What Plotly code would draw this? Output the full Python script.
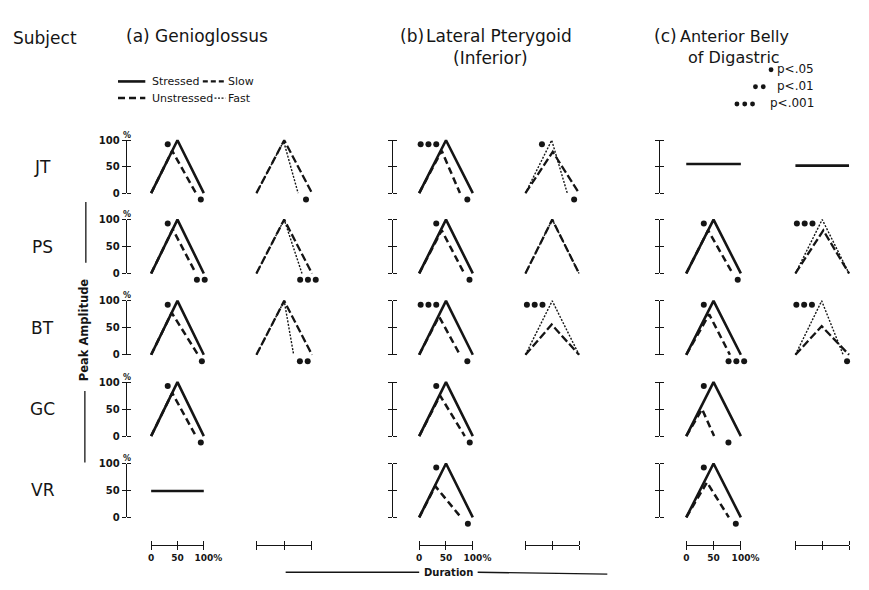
import plotly.graph_objects as go

W, H = 869, 590
INK = "#151515"
FONT = "DejaVu Sans"

subjects = ["JT", "PS", "BT", "GC", "VR"]

# Envelope of each EMG burst: (time of peak, peak amplitude, offset time),
# duration and amplitude both in % of the reference token.
# (a) Genioglossus
genio_stressed = [(50, 100, 100), (50, 100, 100), (50, 100, 100), (50, 100, 100), None]
genio_unstressed = [(40, 80, 85), (41, 82, 85), (39, 78, 89), (40, 80, 85), None]
genio_slow = [(50, 100, 100), (50, 100, 100), (50, 100, 100), None, None]
genio_fast = [(49, 98, 75), (50, 100, 82), (50, 100, 67), None, None]
# (b) Lateral Pterygoid (Inferior)
ptery_stressed = [(50, 100, 100), (50, 100, 100), (50, 100, 100), (50, 100, 100), (50, 100, 100)]
ptery_unstressed = [(42, 80, 76), (42, 80, 84), (37, 71, 76), (39, 75, 85), (30, 58, 78)]
ptery_slow = [(51, 78, 100), (50, 100, 100), (49, 56, 100), None, None]
ptery_fast = [(49, 100, 78), (50, 100, 100), (50, 100, 100), None, None]
# (c) Anterior Belly of Digastric
digas_stressed = [None, (50, 100, 100), (50, 100, 100), (50, 100, 100), (50, 100, 100)]
digas_unstressed = [None, (40, 80, 85), (42, 75, 80), (29, 50, 51), (38, 65, 78)]
digas_slow = [None, (52, 80, 100), (49, 53, 100), None, None]
digas_fast = [None, (50, 100, 100), (49, 100, 89), None, None]

# Records without a distinct peak: constant level in %
genio_flat_stress = [None, None, None, None, 49]
genio_flat_rate = [None, None, None, None, None]
ptery_flat_stress = [None, None, None, None, None]
ptery_flat_rate = [None, None, None, None, None]
digas_flat_stress = [55, None, None, None, None]
digas_flat_rate = [52, None, None, None, None]

# Significance (number of stars) for the peak and for the offset
genio_stress_sig_peak = [1, 1, 1, 1, 0]
genio_stress_sig_end = [1, 2, 1, 1, 0]
genio_rate_sig_peak = [0, 0, 0, 0, 0]
genio_rate_sig_end = [1, 3, 2, 0, 0]
ptery_stress_sig_peak = [3, 1, 3, 1, 1]
ptery_stress_sig_end = [1, 1, 1, 1, 1]
ptery_rate_sig_peak = [1, 0, 3, 0, 0]
ptery_rate_sig_end = [1, 0, 0, 0, 0]
digas_stress_sig_peak = [0, 1, 1, 1, 1]
digas_stress_sig_end = [0, 1, 3, 1, 1]
digas_rate_sig_peak = [0, 3, 3, 0, 0]
digas_rate_sig_end = [0, 0, 1, 0, 0]

amp_ticks = [0, 50, 100]
amp_tick_text = ["0", "50", "100"]
dur_ticks = [0, 50, 100]
dur_tick_text = ["0", "50", "\u00a0" * 3 + "100%"]

sig_labels = ["p<.05", "p<.01", "p<.001"]

# ---- geometry (pixels) ----
COL_PX = [(152, 206), (260, 317), (427, 482), (536, 591), (701, 757), (813, 868)]
ROW_PX = [(191, 137), (273, 218), (356, 301), (439, 384), (522, 467)]
YAXIS_PX = [126, None, 399, None, 673, None]
SCALE_Y_PX = 550

STYLE = {
    "stressed": dict(color=INK, width=2.6, dash="solid"),
    "unstressed": dict(color=INK, width=2.5, dash="7px,4px"),
    "slow": dict(color=INK, width=2.3, dash="8px,3px"),
    "fast": dict(color=INK, width=1.4, dash="2px,1.5px"),
    "flat": dict(color=INK, width=2.6, dash="solid"),
}

panels = [
    dict(ref=genio_stressed, cmp=genio_unstressed, flat=genio_flat_stress,
         peak=genio_stress_sig_peak, end=genio_stress_sig_end, styles=("stressed", "unstressed")),
    dict(ref=genio_slow, cmp=genio_fast, flat=genio_flat_rate,
         peak=genio_rate_sig_peak, end=genio_rate_sig_end, styles=("slow", "fast")),
    dict(ref=ptery_stressed, cmp=ptery_unstressed, flat=ptery_flat_stress,
         peak=ptery_stress_sig_peak, end=ptery_stress_sig_end, styles=("stressed", "unstressed")),
    dict(ref=ptery_slow, cmp=ptery_fast, flat=ptery_flat_rate,
         peak=ptery_rate_sig_peak, end=ptery_rate_sig_end, styles=("slow", "fast")),
    dict(ref=digas_stressed, cmp=digas_unstressed, flat=digas_flat_stress,
         peak=digas_stress_sig_peak, end=digas_stress_sig_end, styles=("stressed", "unstressed")),
    dict(ref=digas_slow, cmp=digas_fast, flat=digas_flat_rate,
         peak=digas_rate_sig_peak, end=digas_rate_sig_end, styles=("slow", "fast")),
]


def ax_key(letter, n):
    return f"{letter}axis" if n == 1 else f"{letter}axis{n}"


def ax_ref(letter, n):
    return letter if n == 1 else f"{letter}{n}"


fig = go.Figure()
layout = dict(width=W, height=H, margin=dict(l=0, r=0, t=0, b=0),
              paper_bgcolor="white", plot_bgcolor="rgba(0,0,0,0)", showlegend=False)

# hidden data axes: one x per column, one y per subject row
for c, (p0, p100) in enumerate(COL_PX):
    s = (p100 - p0) / 100
    L, R = p0 - 22, min(p100 + 18, W)
    layout[ax_key("x", c + 1)] = dict(domain=[L / W, R / W], range=[(L - p0) / s, (R - p0) / s],
                                      visible=False, anchor="y", fixedrange=True)
for r, (b, t) in enumerate(ROW_PX):
    s = (b - t) / 100
    B, T = b + 16, t - 9
    layout[ax_key("y", r + 1)] = dict(domain=[1 - B / H, 1 - T / H], range=[(b - B) / s, (b - T) / s],
                                      visible=False, anchor="x", fixedrange=True)

# bursts
for c, p in enumerate(panels):
    p0, p100 = COL_PX[c]
    sx = (p100 - p0) / 100
    xr = ax_ref("x", c + 1)
    for r in range(len(subjects)):
        b, t = ROW_PX[r]
        sy = (b - t) / 100
        yr = ax_ref("y", r + 1)
        if p["flat"][r] is not None:
            lvl = p["flat"][r]
            fig.add_trace(go.Scatter(x=[0, 100], y=[lvl, lvl], mode="lines", line=STYLE["flat"],
                                     xaxis=xr, yaxis=yr, hoverinfo="skip"))
        envs = []
        for key, style in zip(("ref", "cmp"), p["styles"]):
            env = p[key][r]
            if env is None:
                continue
            envs.append(env)
            tp, ap, te = env
            fig.add_trace(go.Scatter(x=[0, tp, te], y=[0, ap, 0], mode="lines", line=STYLE[style],
                                     xaxis=xr, yaxis=yr, hoverinfo="skip"))
        if not envs:
            continue
        # significance stars beside the peak
        n = p["peak"][r]
        if n:
            top = max(envs, key=lambda e: e[1])
            xs = [top[0] - (10 + 8 * (n - 1 - k)) / sx for k in range(n)]
            ys = [top[1] - 4 / sy] * n
            fig.add_trace(go.Scatter(x=xs, y=ys, mode="markers", cliponaxis=False,
                                     marker=dict(size=6, color=INK), xaxis=xr, yaxis=yr, hoverinfo="skip"))
        # significance stars under the offset
        n = p["end"][r]
        if n:
            ends = [e[2] for e in envs]
            mid = (min(ends) + max(ends)) / 2 + 1 / sx
            xs = [mid + (k - (n - 1) / 2) * 8 / sx for k in range(n)]
            ys = [-6.5 / sy] * n
            fig.add_trace(go.Scatter(x=xs, y=ys, mode="markers", cliponaxis=False,
                                     marker=dict(size=6, color=INK), xaxis=xr, yaxis=yr, hoverinfo="skip"))

AX_LINE = dict(showline=True, linecolor=INK, linewidth=1.4, ticks="outside", ticklen=4,
               tickwidth=1.4, tickcolor=INK, tickmode="array", showgrid=False, tickangle=0,
               zeroline=False, range=[0, 100], fixedrange=True)
BOLD_TICK = dict(family=FONT, size=10, color=INK, weight="bold")

# amplitude scale bars (ticks on both sides of the line)
ny = len(ROW_PX) + 1
for c, axpx in enumerate(YAXIS_PX):
    if axpx is None:
        continue
    for r, (b, t) in enumerate(ROW_PX):
        for side in ("left", "right"):
            d = dict(AX_LINE, domain=[1 - b / H, 1 - t / H], anchor="free", position=axpx / W,
                     side=side, tickvals=amp_ticks)
            if side == "left" and c == 0:
                d.update(showticklabels=True, ticktext=amp_tick_text, tickfont=BOLD_TICK)
            else:
                d["showticklabels"] = False
            layout[ax_key("y", ny)] = d
            fig.add_trace(go.Scatter(x=[], y=[], xaxis=ax_ref("x", c + 1), yaxis=ax_ref("y", ny),
                                     hoverinfo="skip"))
            ny += 1

# duration scale bars under each column
nx = len(COL_PX) + 1
for c, (p0, p100) in enumerate(COL_PX):
    for side in ("bottom", "top"):
        d = dict(AX_LINE, domain=[p0 / W, p100 / W], anchor="free", position=1 - SCALE_Y_PX / H,
                 side=side, tickvals=dur_ticks)
        if side == "bottom" and c % 2 == 0:
            d.update(showticklabels=True, ticktext=dur_tick_text,
                     tickfont=dict(family=FONT, size=9, color=INK, weight="bold"))
        else:
            d["showticklabels"] = False
        layout[ax_key("x", nx)] = d
        fig.add_trace(go.Scatter(x=[], y=[], xaxis=ax_ref("x", nx), yaxis=ax_ref("y", len(ROW_PX)),
                                 hoverinfo="skip"))
        nx += 1

annotations = []
shapes = []


def text(s, x, y, size, xanchor="left", bold=False, angle=0):
    annotations.append(dict(text=s, x=x / W, y=1 - y / H, xref="paper", yref="paper",
                            xanchor=xanchor, yanchor="middle", showarrow=False, textangle=angle,
                            font=dict(family=FONT, size=size, color=INK,
                                      weight="bold" if bold else "normal")))


def line(x0, y0, x1, y1, width=1.3, dash="solid"):
    shapes.append(dict(type="line", xref="paper", yref="paper", x0=x0 / W, y0=1 - y0 / H,
                       x1=x1 / W, y1=1 - y1 / H, line=dict(color=INK, width=width, dash=dash)))


def dot(x, y, d=5):
    shapes.append(dict(type="circle", xref="paper", yref="paper", x0=(x - d / 2) / W,
                       x1=(x + d / 2) / W, y0=1 - (y + d / 2) / H, y1=1 - (y - d / 2) / H,
                       fillcolor=INK, line=dict(width=0)))


# headings
text("Subject", 8, 33, 17)
text("(a)", 124, 31, 17)
text("Genioglossus", 154, 31, 17)
text("(b)", 405, 31, 17)
text("Lateral Pterygoid", 432, 31, 17)
text("(Inferior)", 500, 53, 17, xanchor="center")
text("(c)", 666, 31, 17)
text("Anterior Belly", 693, 31, 16)
text("of Digastric", 750, 53, 16, xanchor="center")

# line-style key
LEG_Y = [77, 94]
line(118, LEG_Y[0], 146, LEG_Y[0], width=STYLE["stressed"]["width"])
line(118, LEG_Y[1], 146, LEG_Y[1], width=STYLE["unstressed"]["width"], dash=STYLE["unstressed"]["dash"])
line(205, LEG_Y[0], 227, LEG_Y[0], width=STYLE["slow"]["width"], dash="5px,3px")
line(217, LEG_Y[1], 228, LEG_Y[1], width=STYLE["fast"]["width"], dash=STYLE["fast"]["dash"])
text("Stressed", 151, LEG_Y[0], 11)
text("Unstressed", 151, LEG_Y[1], 11)
text("Slow", 229, LEG_Y[0], 11)
text("Fast", 229, LEG_Y[1], 11)

# significance key: dots drawn left of each label
SIG_Y = [64, 81.5, 99]
SIG_LAST_DOT = [788, 780, 769]
for i, s in enumerate(sig_labels):
    text(s, 834, SIG_Y[i], 12, xanchor="right")
    for k in range(i + 1):
        dot(SIG_LAST_DOT[i] - 8 * k, SIG_Y[i] + 1)

# subject labels and "%" marks on the amplitude bars
for r, name in enumerate(subjects):
    b, t = ROW_PX[r]
    text(name, 41, (b + t) / 2, 17, xanchor="center")
    text("%", 127, t - 5, 8, xanchor="center", bold=True)

# axis captions
text("Peak Amplitude", 83, 330, 11.5, xanchor="center", bold=True, angle=-90)
line(85, 200, 85, 262)
line(84, 393, 84, 466)
text("Duration", 457, 578, 10, xanchor="center", bold=True)
line(290, 578, 427, 578)
line(487, 578, 620, 580)

layout["annotations"] = annotations
layout["shapes"] = shapes
fig.update_layout(**layout)
fig.update_traces(showlegend=False)
fig.write_html("out.html")
